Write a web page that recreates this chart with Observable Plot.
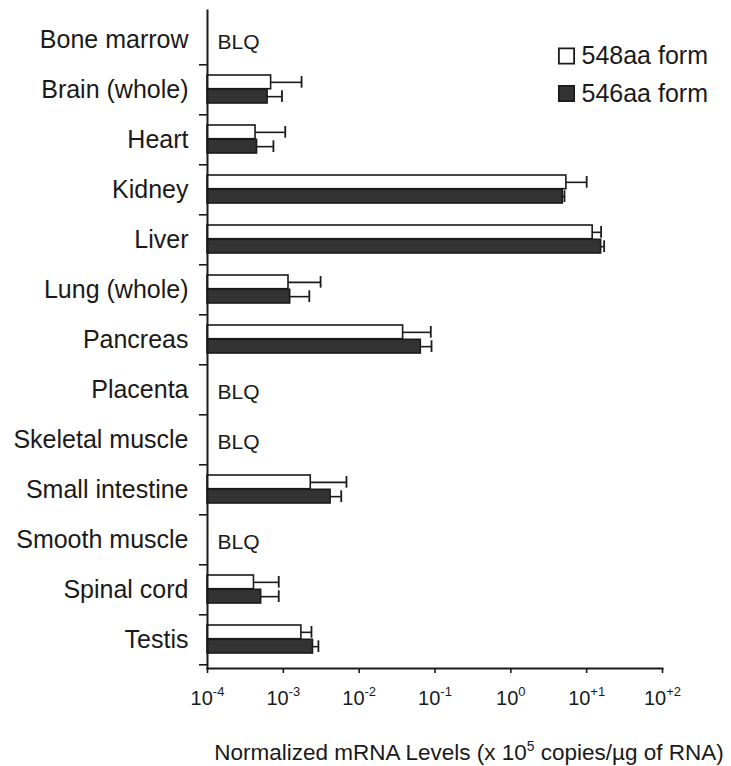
<!DOCTYPE html>
<html>
<head>
<meta charset="utf-8">
<script src="https://cdn.jsdelivr.net/npm/d3@7"></script>
<script src="https://cdn.jsdelivr.net/npm/@observablehq/plot@0.6"></script>
<style>
  html, body { margin: 0; padding: 0; background: #fff; }
  svg { display: block; }
</style>
</head>
<body>
<div id="chart"></div>
<script>
// ---- data ----
const tissues = ["Bone marrow", "Brain (whole)", "Heart", "Kidney", "Liver", "Lung (whole)", "Pancreas",
  "Placenta", "Skeletal muscle", "Small intestine", "Smooth muscle", "Spinal cord", "Testis"];
const form548 = [null, 6.9e-4, 4.3e-4, 5.4, 12, 1.17e-3, 0.038, null, null, 2.3e-3, null, 4.1e-4, 1.73e-3];
const form548Hi = [null, 1.74e-3, 1.06e-3, 10, 15.5, 3.1e-3, 0.088, null, null, 6.8e-3, null, 8.7e-4, 2.35e-3];
const form546 = [null, 6.2e-4, 4.5e-4, 4.85, 15.5, 1.23e-3, 0.065, null, null, 4.2e-3, null, 5.1e-4, 2.46e-3];
const form546Hi = [null, 9.6e-4, 7.4e-4, 5.1, 17, 2.2e-3, 0.09, null, null, 5.8e-3, null, 8.7e-4, 2.9e-3];
const xTicks = [1e-4, 1e-3, 1e-2, 1e-1, 1e0, 1e1, 1e2];
const xTickExp = ["-4", "-3", "-2", "-1", "0", "+1", "+2"];
const seriesNames = ["548aa form", "546aa form"];
const blqLabel = "BLQ";
const xTitle = "Normalized mRNA Levels (x 10^5 copies/µg of RNA)";
const xMin = xTicks[0], xMax = xTicks[xTicks.length - 1];

const rows = tissues.map((t, i) => ({tissue: t, w: form548[i], wHi: form548Hi[i], d: form546[i], dHi: form546Hi[i]}));
const blqRows = rows.filter(r => r.w == null && r.d == null);
const valRows = rows.filter(r => r.w != null);

const font = "'Liberation Sans', Arial, Helvetica, sans-serif";
const ink = "#1a1a1a";
const W = 731, H = 766, mL = 207, mR = 69, mT = 10, mB = 98;
const bw = (H - mT - mB) / tissues.length;
const half = bw / 2;
const inset = 11;
const off = (half - inset) / 2 + inset - half; // center offset of each bar within band

const chart = Plot.plot({
  width: W, height: H,
  marginLeft: mL, marginRight: mR, marginTop: mT, marginBottom: mB,
  style: {fontFamily: font, color: ink, background: "white", overflow: "visible"},
  x: {type: "log", domain: [xMin, xMax]},
  y: {domain: tissues, padding: 0},
  marks: [
    // bars
    Plot.barX(valRows, {y: "tissue", x1: () => xMin, x2: "w", insetTop: inset, insetBottom: half,
      fill: "white", stroke: ink, strokeWidth: 1.6}),
    Plot.barX(valRows, {y: "tissue", x1: () => xMin, x2: "d", insetTop: half, insetBottom: inset,
      fill: "#333", stroke: ink, strokeWidth: 1.6}),
    // error bars
    Plot.ruleY(valRows, {y: "tissue", x1: "w", x2: "wHi", dy: off, stroke: ink, strokeWidth: 1.6}),
    Plot.tickX(valRows, {y: "tissue", x: "wHi", insetTop: inset + 1, insetBottom: half + 1, stroke: ink, strokeWidth: 1.8}),
    Plot.ruleY(valRows, {y: "tissue", x1: "d", x2: "dHi", dy: -off, stroke: ink, strokeWidth: 1.6}),
    Plot.tickX(valRows, {y: "tissue", x: "dHi", insetTop: half + 1, insetBottom: inset + 1, stroke: ink, strokeWidth: 1.8}),
    // BLQ labels
    Plot.text(blqRows, {y: "tissue", frameAnchor: "left", text: () => blqLabel, textAnchor: "start",
      lineAnchor: "middle", dx: 10, dy: 3, fontSize: 21, fill: ink}),
    // y axis: labels and boundary ticks
    Plot.axisY({tickSize: 0, tickPadding: 19, fontSize: 25, fill: ink, label: null}),
    Plot.axisY({tickSize: 8, text: null, dy: half, stroke: ink, strokeWidth: 1.6, label: null}),
    // x axis
    Plot.axisX({ticks: xTicks, tickFormat: (d) => "10^" + xTickExp[xTicks.indexOf(d)], tickSize: 5,
      tickPadding: 17, fontSize: 20, fill: ink, stroke: ink, strokeWidth: 1.6, label: null}),
    Plot.frame({anchor: "left", stroke: ink, strokeWidth: 2}),
    Plot.frame({anchor: "bottom", stroke: ink, strokeWidth: 2}),
    // legend
    Plot.dot([seriesNames[0]], {frameAnchor: "top-right", dx: -96, dy: 45.5, symbol: "square", r: 8.6,
      fill: "white", stroke: ink, strokeWidth: 1.8}),
    Plot.dot([seriesNames[1]], {frameAnchor: "top-right", dx: -96, dy: 83, symbol: "square", r: 8.6,
      fill: "#333", stroke: ink, strokeWidth: 1.8}),
    Plot.text(seriesNames, {frameAnchor: "top-right", dx: -81, dy: 45.5, text: d => d, textAnchor: "start",
      lineAnchor: "middle", fontSize: 25, fill: ink, filter: (d, i) => i === 0}),
    Plot.text(seriesNames, {frameAnchor: "top-right", dx: -81, dy: 83, text: d => d, textAnchor: "start",
      lineAnchor: "middle", fontSize: 25, fill: ink, filter: (d, i) => i === 1}),
    // x title
    Plot.text([xTitle], {frameAnchor: "bottom", dx: 34, dy: 84, text: d => d, lineAnchor: "middle",
      fontSize: 22.5, fill: ink})
  ]
});

document.getElementById("chart").appendChild(chart);

// superscripts: replace "a^b" with a + superscript tspan
function superscript(textEl, supSize, rise) {
  const s = textEl.textContent;
  const m = s.match(/^(.*?)\^(\S+)(.*)$/);
  if (!m) return;
  const sel = d3.select(textEl);
  sel.text(null);
  sel.append("tspan").text(m[1]);
  sel.append("tspan").attr("font-size", supSize).attr("dy", -rise).text(m[2]);
  if (m[3]) sel.append("tspan").attr("dy", rise).text(m[3]);
}
d3.select(chart).selectAll("text").filter(function() { return this.textContent.includes("^"); })
  .each(function() {
    const isTitle = this.textContent.length > 10;
    superscript(this, isTitle ? 14 : 13, 9);
  });
</script>
</body>
</html>
